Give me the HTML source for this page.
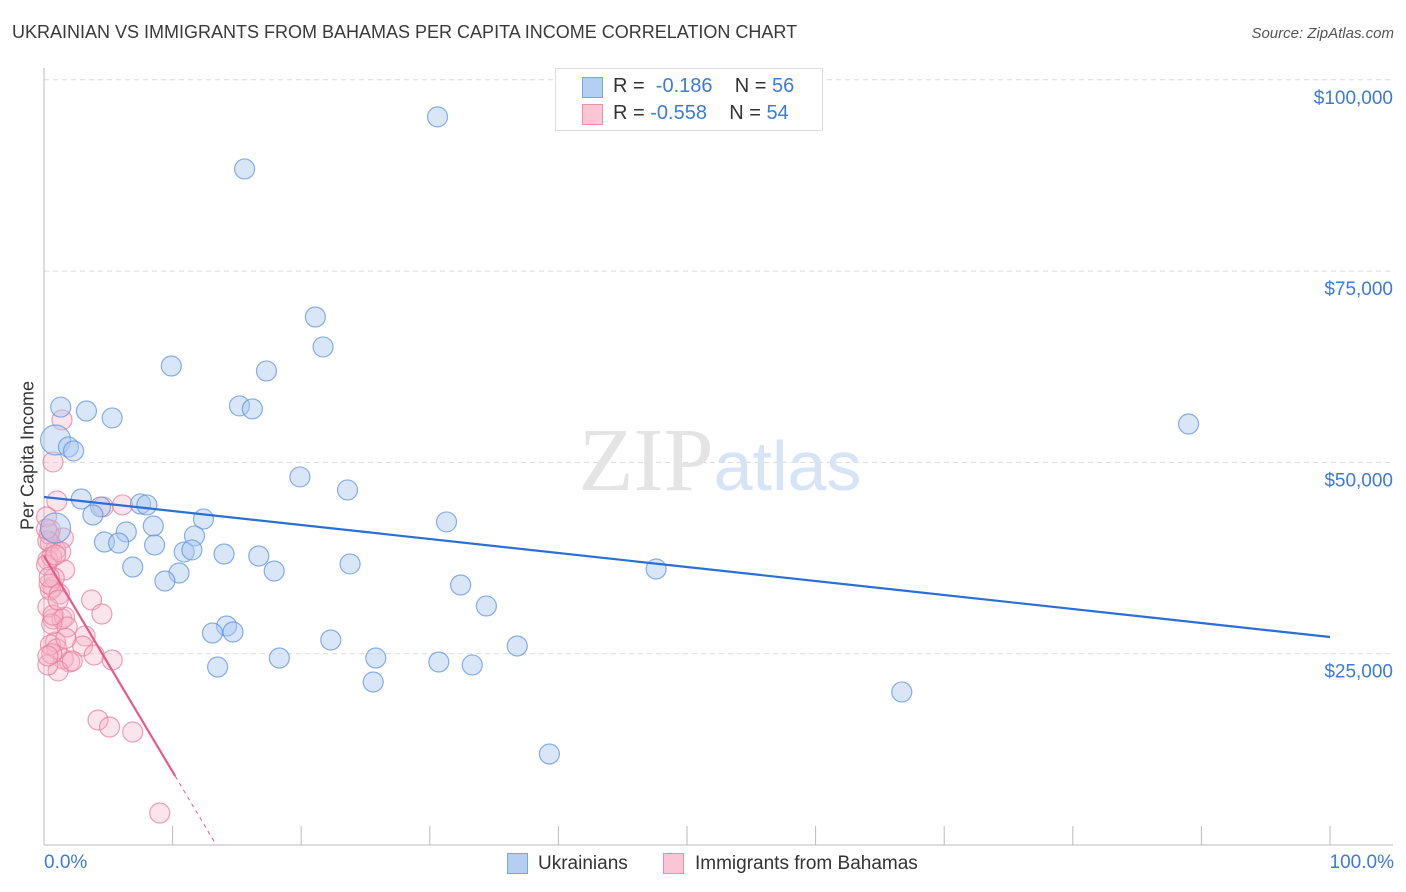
<!DOCTYPE html>
<html><head><meta charset="utf-8"><style>
body{margin:0;background:#fff;font-family:"Liberation Sans",sans-serif;}
#c{position:relative;width:1406px;height:892px;overflow:hidden;}
.t{position:absolute;white-space:nowrap;}
</style></head><body>
<div id="c">
<div class="t" style="left:12px;top:22px;font-size:18px;color:#3a3a3a;">UKRAINIAN VS IMMIGRANTS FROM BAHAMAS PER CAPITA INCOME CORRELATION CHART</div>
<div class="t" style="right:12px;top:25px;font-size:15px;color:#555;font-style:italic;">Source: ZipAtlas.com</div>
<div class="t" style="left:-72px;top:445px;width:200px;text-align:center;font-size:18px;color:#333;transform:rotate(-90deg);">Per Capita Income</div>
<svg id="s" width="1406" height="892" style="position:absolute;left:0;top:0"></svg>
</div>
<script>
const blueX=[30.6,15.6,21.1,21.7,9.9,17.3,1.3,3.3,5.3,15.2,16.2,89.0,0.9,1.9,2.3,19.9,23.6,2.9,7.5,8.0,4.4,3.8,12.4,31.3,0.9,8.5,6.4,11.7,4.7,5.8,8.6,10.9,11.5,14.0,16.7,6.9,23.8,17.9,47.6,10.5,9.4,32.4,34.4,14.2,13.1,14.7,22.3,36.8,18.3,25.8,30.7,33.3,13.5,25.6,66.7,39.3];
const blueY=[95150,88350,69000,65090,62600,61950,57230,56720,55810,57380,56990,55020,52930,52020,51500,48100,46400,45220,44570,44440,44180,43130,42610,42220,41430,41690,40910,40390,39600,39470,39210,38300,38560,38030,37770,36330,36730,35810,36070,35550,34500,33980,31240,28620,27710,27840,26790,26010,24440,24440,23920,23530,23260,21300,20000,11890];
const pinkX=[1.4,0.7,1.0,4.6,6.1,0.5,1.5,0.5,1.6,0.9,0.3,0.7,0.5,3.7,4.5,0.7,1.4,1.6,0.9,3.2,3.0,1.5,2.0,1.1,3.9,5.3,4.2,5.1,6.9,9.0,0.2,0.4,0.3,0.6,0.2,0.8,0.4,1.2,0.3,0.6,1.8,2.2,0.5,1.0,0.3,0.7,1.3,0.2,0.9,0.4,1.7,0.6,0.3,1.1];
const pinkY=[55550,50060,44960,44180,44440,41170,40120,39470,35940,38560,37250,33720,33330,32020,30190,29530,29530,29790,26530,27320,26010,24310,23920,22750,24830,24180,16340,15420,14770,4180,42880,40640,39730,37640,36590,34890,34100,32800,31110,28880,28490,24050,26140,25620,23530,30050,38300,41300,37900,35000,27000,25000,24700,32000];
const ticksY=[25000,50000,75000,100000];
const tickLabY=["$25,000","$50,000","$75,000","$100,000"];
const blueTrend=[45480,27180], pinkTrend=[37770,-2820];
const X=p=>44+p*12.86, Y=v=>845-v*191.3/25000;
const s=document.getElementById('s'),NS='http://www.w3.org/2000/svg';
function mk(t,a){const e=document.createElementNS(NS,t);for(const k in a)e.setAttribute(k,a[k]);s.appendChild(e);return e;}
ticksY.forEach((v,i)=>{
 const g=mk('line',{x1:44,x2:1393,y1:Y(v),y2:Y(v),stroke:'#dcdcdc','stroke-dasharray':'5,4'});
 
 
 const t=mk('text',{x:1393,y:Y(v)+24,'text-anchor':'end','font-size':19,fill:'#3d7bd6','font-family':'Liberation Sans'});
 t.textContent=tickLabY[i];
 
 
});
let a=mk('line',{x1:44,x2:44,y1:68,y2:845,stroke:'#bbb'});


a=mk('line',{x1:44,x2:1393,y1:845,y2:845,stroke:'#bbb'});


for(let i=0;i<=10;i++){const l=mk('line',{x1:X(i*10),x2:X(i*10),y1:826,y2:845,stroke:'#bbb'});
 
 }
const wm=mk('text',{x:720,y:490,'text-anchor':'middle','font-size':90,fill:'#e4e4e4','font-family':'Liberation Serif'});
wm.innerHTML='ZIP<tspan fill="#d6e4f5" font-family="Liberation Sans" font-size="70">atlas</tspan>';


function pts(xs,ys,f,st,nm,op){xs.forEach((x,i)=>{const big=(nm==='ukrainian-point'&&(i===12||i===24));
 const c=mk('circle',{cx:X(x),cy:Y(ys[i]),r:big?15:10,fill:f,'fill-opacity':op,stroke:st,'stroke-opacity':0.7,'stroke-width':1.2});
 
 });}
pts(pinkX,pinkY,'#f7b3c8','#e8799a','bahamas-point',0.35);
pts(blueX,blueY,'#a9c8f0','#5b8fd8','ukrainian-point',0.45);
let tl=mk('line',{x1:X(0),y1:Y(blueTrend[0]),x2:X(100),y2:Y(blueTrend[1]),stroke:'#2a6fd6','stroke-width':2.2});


const pe=10.2, pz=-pinkTrend[0]/pinkTrend[1];
tl=mk('line',{x1:X(0),y1:Y(pinkTrend[0]),x2:X(pe),y2:Y(pinkTrend[0]+pinkTrend[1]*pe),stroke:'#e55c88','stroke-width':2.2});


tl=mk('line',{x1:X(pe),y1:Y(pinkTrend[0]+pinkTrend[1]*pe),x2:X(pz),y2:Y(0),stroke:'#e55c88','stroke-width':1,'stroke-dasharray':'4,4'});


</script>
<div class="t" style="left:44px;top:852px;font-size:19px;color:#3d7bd6;">0.0%</div>
<div class="t" style="right:12px;top:852px;font-size:19px;color:#3d7bd6;">100.0%</div>
<div style="position:absolute;left:555px;top:68px;width:266px;height:61px;border:1px solid #ddd;background:#fff;font-size:20px;color:#333;">
 <div style="position:absolute;left:26px;top:8px;width:19px;height:19px;background:#b3cff2;border:1px solid #7aa6e0;"></div>
 <div class="t" style="left:57px;top:6px;">R = &nbsp;<span style="color:#3d7bd6">-0.186</span>&nbsp;&nbsp;&nbsp; N = <span style="color:#3d7bd6">56</span></div>
 <div style="position:absolute;left:26px;top:35px;width:19px;height:19px;background:#f9c6d5;border:1px solid #eb8fab;"></div>
 <div class="t" style="left:57px;top:33px;">R = <span style="color:#3d7bd6">-0.558</span>&nbsp;&nbsp;&nbsp; N = <span style="color:#3d7bd6">54</span></div>
</div>
<div style="position:absolute;top:853px;left:0;width:1406px;font-size:19px;color:#333;">
 <div style="position:absolute;left:507px;top:0;width:19px;height:19px;background:#b3cff2;border:1px solid #7aa6e0;"></div>
 <div class="t" style="left:538px;top:0;">Ukrainians</div>
 <div style="position:absolute;left:663px;top:0;width:19px;height:19px;background:#f9c6d5;border:1px solid #eb8fab;"></div>
 <div class="t" style="left:695px;top:0;">Immigrants from Bahamas</div>
</div>
</body></html>
